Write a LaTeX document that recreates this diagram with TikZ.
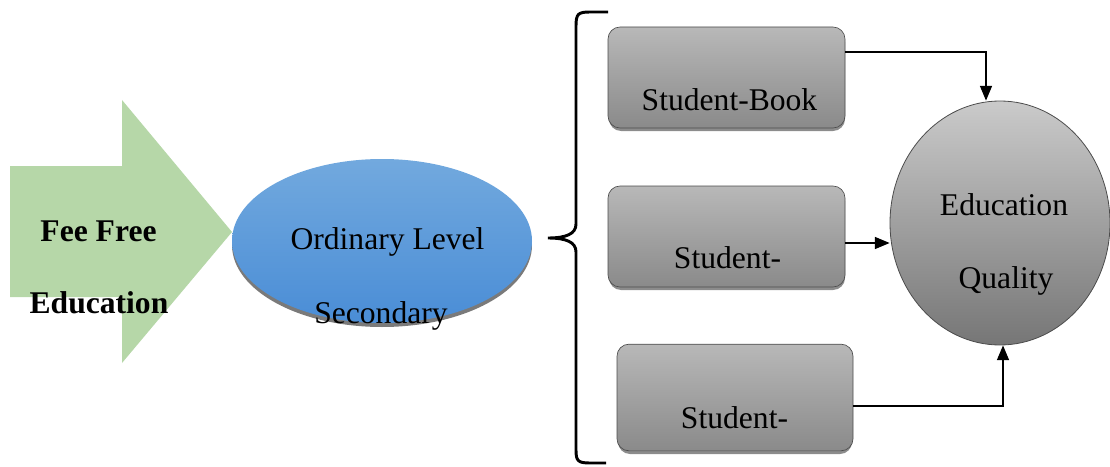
\documentclass[tikz,border=0pt]{standalone}
\usepackage{fontspec}
\setmainfont{Liberation Serif}
\usetikzlibrary{arrows.meta,shapes.geometric}

\definecolor{feegreen}{HTML}{B6D7A8}
\definecolor{leveltop}{HTML}{72A9DE}
\definecolor{levelbot}{HTML}{4A8DD6}
\definecolor{boxtop}{HTML}{B8B8B8}
\definecolor{boxbot}{HTML}{8A8A8A}
\definecolor{qualtop}{HTML}{CACACA}
\definecolor{qualbot}{HTML}{767676}

\begin{document}
\begin{tikzpicture}[x=0.75pt,y=-0.75pt,
    txt/.style={font=\fontsize{23.7}{28}\selectfont, inner sep=0pt, anchor=base},
    factor/.style={draw=gray!60!black, line width=0.5pt, rounded corners=9pt,
        top color=boxtop, bottom color=boxbot, inner sep=0pt,
        minimum width=177.75pt, minimum height=75.75pt},
    shade/.style={fill=gray!50!black, opacity=0.6, rounded corners=9pt},
    link/.style={-{Triangle[length=11pt,width=9pt]}, line width=0.9pt}]
    \useasboundingbox (0,0) rectangle (1110,467);

    % big green arrow on the left
    \fill[feegreen] (10,166) -- (122,166) -- (122,100) -- (232,232)
        -- (122,363) -- (122,297) -- (10,297) -- cycle;
    \node[txt, font=\fontsize{23.7}{28}\selectfont\bfseries] (fee) at (98.5,241) {Fee Free};
    \node[txt, font=\fontsize{23.7}{28}\selectfont\bfseries] (feeedu) at (99,313) {Education};

    % ordinary level ellipse with its shadow
    \fill[gray!70!black, opacity=0.8] (382,245) ellipse (150 and 82);
    \node[ellipse, inner sep=0pt, minimum width=225pt, minimum height=123pt,
        top color=leveltop, bottom color=levelbot] (level) at (382,241) {};
    \node[txt] (ordinary) at (387.5,249) {Ordinary Level};
    \node[txt] (secondary) at (381,323) {Secondary};

    % curly brace
    \draw[line width=2.2pt] (608,12) -- (590,12) .. controls (578,12) and (576,14) .. (576,26)
        -- (576,224) .. controls (576,234) and (566,238) .. (548,238)
        .. controls (566,238) and (576,242) .. (576,252)
        -- (576,450) .. controls (576,461) and (578,463) .. (590,463) -- (606,463);

    % the three student factors
    \fill[shade] (609,30) rectangle (845,131);
    \node[factor] (book) at (726.5,77.5) {};
    \fill[shade] (609,189) rectangle (845,290);
    \node[factor] (mid) at (726.5,236.5) {};
    \fill[shade] (618,347) rectangle (852,454);
    \node[factor, minimum width=177pt, minimum height=80pt] (low) at (735,397.5) {};
    \node[txt] (booklbl) at (729.5,110) {Student-Book};
    \node[txt] (midlbl) at (727.5,268) {Student-};
    \node[txt] (lowlbl) at (734.5,428) {Student-};

    % education quality
    \node[ellipse, draw=gray!60!black, line width=0.6pt, inner sep=0pt,
        minimum width=165pt, minimum height=183pt,
        top color=qualtop, bottom color=qualbot] (quality) at (1000,223) {};
    \node[txt] (qedu) at (1004,215) {Education};
    \node[txt] (qual) at (1006,288) {Quality};

    % links into quality
    \draw[link] (book.east |- 0,52) -| ([xshift=-10.5pt]quality.north);
    \draw[link] (mid.east |- 0,243) -- (quality.west |- 0,243);
    \draw[link] (low.east |- 0,406) -| ([xshift=2.25pt]quality.south);
\end{tikzpicture}
\end{document}
